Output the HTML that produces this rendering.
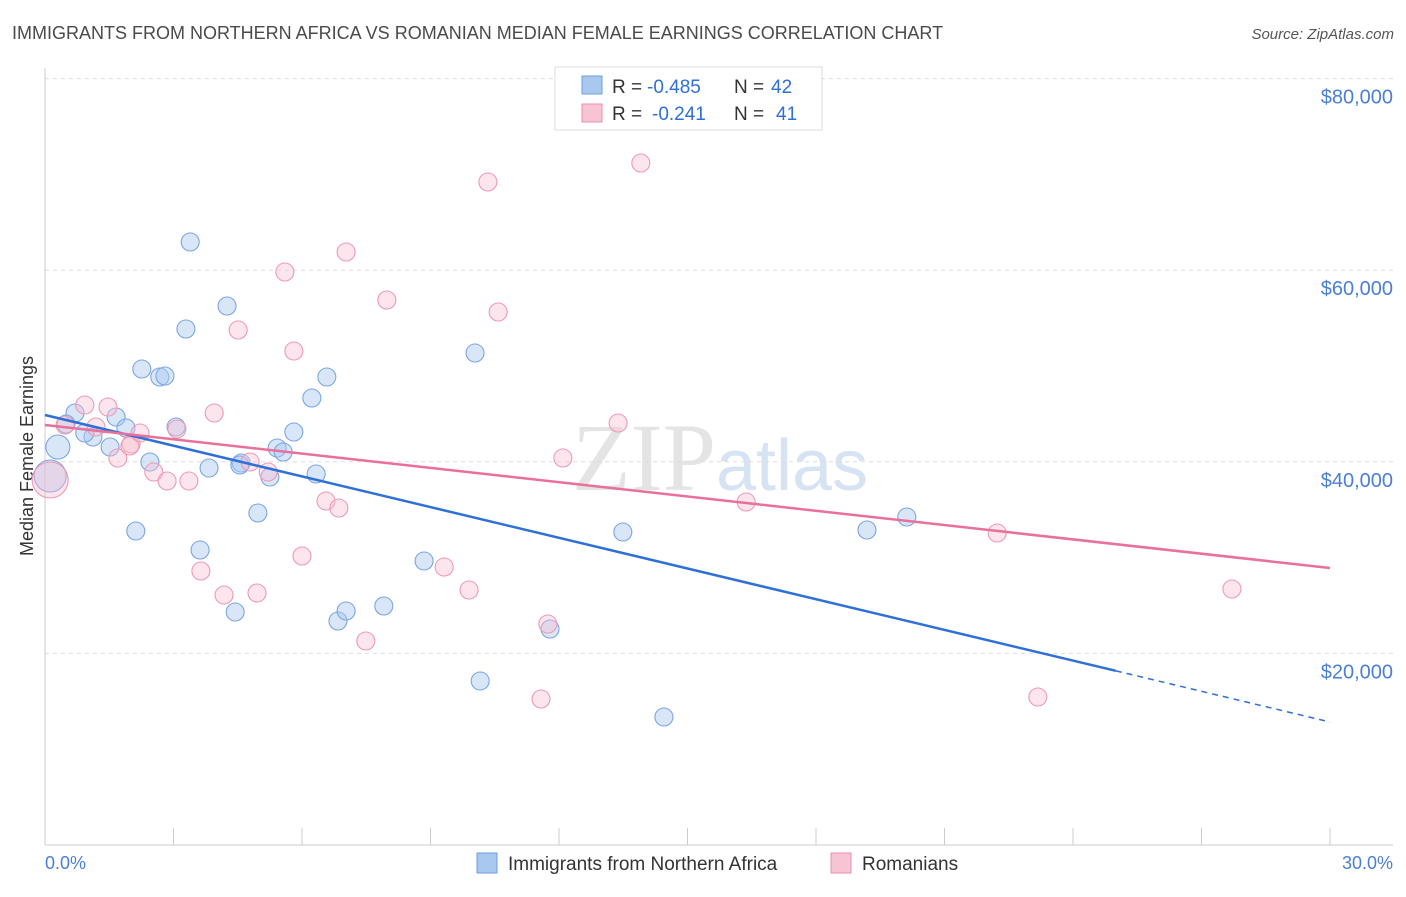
<!DOCTYPE html>
<html><head><meta charset="utf-8"><style>
body{margin:0;background:#fff;font-family:"Liberation Sans",sans-serif;}
</style></head><body>
<svg width="1406" height="892" xmlns="http://www.w3.org/2000/svg" font-family="Liberation Sans, sans-serif">
<text x="12" y="39" font-size="18" fill="#4a4a4a">IMMIGRANTS FROM NORTHERN AFRICA VS ROMANIAN MEDIAN FEMALE EARNINGS CORRELATION CHART</text>
<text x="1394" y="39" font-size="15" fill="#555" font-style="italic" text-anchor="end">Source: ZipAtlas.com</text>
<text x="720" y="490" font-size="96" fill="#e4e4e4" text-anchor="middle" font-family="Liberation Serif, serif">ZIP<tspan fill="#d6e3f3" font-family="Liberation Sans, sans-serif" font-size="72">atlas</tspan></text>
<g id="grid"></g>
<line x1="45" y1="68" x2="45" y2="845" stroke="#ccc"/>
<line x1="45" y1="845" x2="1393" y2="845" stroke="#ccc"/>
<g id="xticks"></g>
<g id="ylabels"></g>
<text x="45" y="869" font-size="18" fill="#4a7fd6">0.0%</text>
<text x="1393" y="869" font-size="18" fill="#4a7fd6" text-anchor="end">30.0%</text>
<text transform="translate(33,456) rotate(-90)" font-size="18" fill="#333" text-anchor="middle">Median Female Earnings</text>
<g id="pts"></g>
<g id="lines"></g>
<g>
<rect x="555" y="67" width="267" height="63" fill="#fff" stroke="#ddd"/>
<rect x="582" y="76" width="20" height="18" fill="#a9c8f0" stroke="#6e9ee0"/>
<text x="612" y="93" font-size="19" fill="#333">R =</text>
<text x="647" y="93" font-size="19" fill="#2e6fd8">-0.485</text>
<text x="734" y="93" font-size="19" fill="#333">N =</text>
<text x="771" y="93" font-size="19" fill="#2e6fd8">42</text>
<rect x="582" y="104" width="20" height="18" fill="#f8c3d3" stroke="#eb90ac"/>
<text x="612" y="120" font-size="19" fill="#333">R =</text>
<text x="652" y="120" font-size="19" fill="#2e6fd8">-0.241</text>
<text x="734" y="120" font-size="19" fill="#333">N =</text>
<text x="776" y="120" font-size="19" fill="#2e6fd8">41</text>
</g>
<g>
<rect x="477" y="853" width="20" height="20" fill="#a9c8f0" stroke="#6e9ee0"/>
<text x="508" y="870" font-size="19" fill="#333">Immigrants from Northern Africa</text>
<rect x="831" y="853" width="20" height="20" fill="#f8c3d3" stroke="#eb90ac"/>
<text x="862" y="870" font-size="19" fill="#333">Romanians</text>
</g>
</svg>
<script>
const yTicks=[20000,40000,60000,80000];
const yTickLabels=["$20,000","$40,000","$60,000","$80,000"];
const xTickCount=[0,3,6,9,12,15,18,21,24,27,30];
const bluePx=[[58,447],[50,476],[75,413],[66,424],[93,437],[85,433],[110,447],[116,417],[126,428],[136,531],[142,369],[150,462],[160,377],[165,376],[176,427],[186,329],[190,242],[200,550],[209,468],[227,306],[235,612],[241,463],[258,513],[270,477],[277,448],[283,452],[294,432],[312,398],[316,474],[327,377],[338,621],[346,611],[384,606],[424,561],[475,353],[480,681],[550,629],[623,532],[664,717],[867,530],[907,517],[240,465]];
const pinkPx=[[50,480],[65,425],[85,405],[96,427],[108,407],[118,458],[131,444],[140,433],[154,472],[167,481],[177,429],[189,481],[201,571],[214,413],[224,595],[238,330],[250,462],[257,593],[268,472],[285,272],[294,351],[302,556],[326,501],[339,508],[346,252],[366,641],[387,300],[444,567],[469,590],[488,182],[498,312],[541,699],[548,624],[563,458],[618,423],[641,163],[746,502],[997,533],[1038,697],[1232,589],[130,446]];
const blueX=bluePx.map(p=>+((p[0]-45)/1285*30).toFixed(2));
const blueY=bluePx.map(p=>Math.round((845-p[1])/191.6*20000));
const pinkX=pinkPx.map(p=>+((p[0]-45)/1285*30).toFixed(2));
const pinkY=pinkPx.map(p=>Math.round((845-p[1])/191.6*20000));
const blueSize=[12,16];const pinkSize=[18];
const blueTrend=[44885,12839];const blueSolidEnd=25;
const pinkTrend=[43841,28914];
const sx=v=>45+v/30*1285, sy=v=>845-v/20000*191.6;
const NS="http://www.w3.org/2000/svg";
function mk(t,a,p){const e=document.createElementNS(NS,t);for(const k in a)e.setAttribute(k,a[k]);p.appendChild(e);return e;}
const grid=document.getElementById('grid'),yl=document.getElementById('ylabels'),xt=document.getElementById('xticks');
yTicks.forEach((v,i)=>{
 const l=mk('line',{x1:45,x2:1393,y1:sy(v),y2:sy(v),stroke:'#ddd','stroke-dasharray':'4,4'},grid);
 
 
 const t=mk('text',{x:1393,y:sy(v)+25,'font-size':20,fill:'#4a7fd6','text-anchor':'end'},yl);
 t.textContent=yTickLabels[i];
 
 
});
xTickCount.forEach(v=>{
 const l=mk('line',{x1:sx(v),x2:sx(v),y1:828,y2:845,stroke:'#ccc'},xt);
 
 
});
const pts=document.getElementById('pts');
blueX.forEach((x,i)=>{
 const c=mk('circle',{cx:sx(x),cy:sy(blueY[i]),r:blueSize[i]||9,fill:'rgba(169,200,240,0.45)',stroke:'#7aa6e4','stroke-width':1.1},pts);
 
 
});
pinkX.forEach((x,i)=>{
 const c=mk('circle',{cx:sx(x),cy:sy(pinkY[i]),r:pinkSize[i]||9,fill:'rgba(248,190,208,0.4)',stroke:'#ee9ab4','stroke-width':1.1},pts);
 
 
});
const lines=document.getElementById('lines');
const by=x=>blueTrend[0]+(blueTrend[1]-blueTrend[0])*x/30;
let l=mk('line',{x1:sx(0),y1:sy(by(0)),x2:sx(blueSolidEnd),y2:sy(by(blueSolidEnd)),stroke:'#2e6fd8','stroke-width':2.5},lines);


l=mk('line',{x1:sx(blueSolidEnd),y1:sy(by(blueSolidEnd)),x2:sx(30),y2:sy(by(30)),stroke:'#2e6fd8','stroke-width':1.5,'stroke-dasharray':'6,5'},lines);


l=mk('line',{x1:sx(0),y1:sy(pinkTrend[0]),x2:sx(30),y2:sy(pinkTrend[1]),stroke:'#e8709a','stroke-width':2.5},lines);


</script>
</body></html>
